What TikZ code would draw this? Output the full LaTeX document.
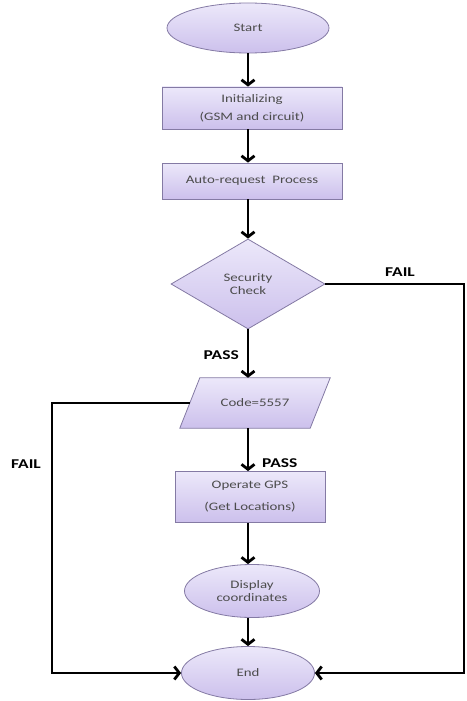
\documentclass[tikz,border=0pt]{standalone}
\usepackage{fontspec}
\setmainfont{Carlito}
\newfontfamily\chartfam[FakeStretch=1.3]{Carlito}
\newcommand\boxfont{\chartfam\fontsize{11.5}{13}\selectfont}
\newcommand\tagfont{\chartfam\bfseries\fontsize{13.5}{15}\selectfont}
\usetikzlibrary{shapes.geometric,arrows.meta}
\definecolor{lilac}{RGB}{204,192,236}
\definecolor{lilaclt}{RGB}{236,232,250}
\definecolor{lilacdk}{RGB}{132,122,164}

\begin{document}
\begin{tikzpicture}[x=1bp,y=-1bp,
  skin/.style={draw=lilacdk, line width=0.8bp, top color=lilaclt, bottom color=lilac},
  blk/.style={skin, text=black!70, font=\boxfont, align=center, inner sep=0pt},
  flow/.style={line width=2.8bp, -{Straight Barb[length=5bp,width=13bp]}},
  tag/.style={font=\tagfont, inner sep=0pt}]
\useasboundingbox (0,0) rectangle (467,701);
\node[blk, ellipse, minimum width=162bp, minimum height=50bp] (start) at (248,28) {Start};
\node[blk, minimum width=180bp, minimum height=42bp] (init) at (252,108) {Initializing\\[5bp](GSM and circuit)};
\node[blk, minimum width=180bp, minimum height=36bp] (autoreq) at (252,181) {Auto-request\ \ Process};
\node[blk, diamond, aspect=1.7, minimum width=154bp, minimum height=90bp] (check) at (248,284) {Security\\Check};
\node[inner sep=0pt, minimum width=130bp, minimum height=50bp] (code) at (255,403) {};
\draw[skin] ([xshift=10bp]code.north west) -- ([xshift=10bp]code.north east)
  -- ([xshift=-10bp]code.south east) -- ([xshift=-10bp]code.south west) -- cycle;
\node[text=black!70, font=\boxfont, inner sep=0pt] (codetxt) at (code) {Code=5557};
\node[blk, minimum width=150bp, minimum height=51bp] (gps) at (250,497) {Operate GPS\\[9bp](Get Locations)};
\node[blk, ellipse, minimum width=135bp, minimum height=53bp] (disp) at (252,591) {Display\\coordinates};
\node[blk, ellipse, minimum width=133bp, minimum height=53bp] (finish) at (248,673) {End};
\coordinate (rturn) at (464,284);
\coordinate (lturn) at (52,403);
\draw[flow] (start.south) -- (start.south |- init.north);
\draw[flow] (start.south |- init.south) -- (start.south |- autoreq.north);
\draw[flow] (start.south |- autoreq.south) -- (check.north);
\draw[flow] (check.south) -- (check.south |- code.north);
\draw[flow] (check.south |- code.south) -- (check.south |- gps.north);
\draw[flow] (check.south |- gps.south) -- (check.south |- disp.north);
\draw[flow] (check.south |- disp.south) -- (finish.north);
\draw[flow] (check.east) -- (rturn) |- (finish.east);
\draw[flow] (code.west) -- (code.west -| lturn) |- (finish.west);
\node[tag, anchor=east] (passA) at (239,355) {PASS};
\node[tag, anchor=west] (passB) at (262,463) {PASS};
\node[tag] (failA) at (400,272) {FAIL};
\node[tag] (failB) at (26,464) {FAIL};
\end{tikzpicture}
\end{document}
